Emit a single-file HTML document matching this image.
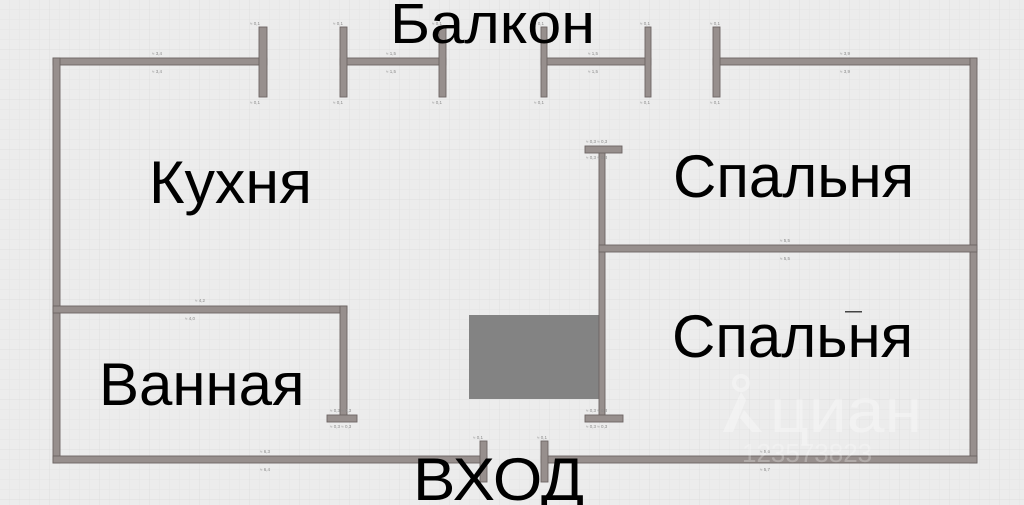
<!DOCTYPE html>
<html><head><meta charset="utf-8"><style>
html,body{margin:0;padding:0;background:#ececec;}
svg{display:block;}
</style></head><body>
<svg width="1024" height="505" viewBox="0 0 1024 505" xmlns="http://www.w3.org/2000/svg">
<defs>
<pattern id="g1" width="10" height="10" patternUnits="userSpaceOnUse">
<path d="M10 0V10M0 10H10" stroke="#000" stroke-opacity="0.03" stroke-width="1" fill="none"/>
</pattern>
<pattern id="g2" width="50" height="50" patternUnits="userSpaceOnUse">
<path d="M50 0V50M0 50H50" stroke="#000" stroke-opacity="0.03" stroke-width="1" fill="none"/>
</pattern>
</defs>
<rect width="1024" height="505" fill="#ececec"/>
<rect width="1024" height="505" fill="url(#g1)"/>
<rect width="1024" height="505" fill="url(#g2)"/>

<!-- gray block -->
<rect x="469" y="315" width="131" height="84" fill="#838383"/>

<g fill="#978f8d" stroke="#6c6462" stroke-width="0.9">
<!-- top walls -->
<rect x="53" y="58" width="214" height="7"/>
<rect x="340" y="58" width="106" height="7"/>
<rect x="541" y="58" width="110" height="7"/>
<rect x="713" y="58" width="264" height="7"/>
<!-- top T verticals -->
<rect x="259" y="27" width="8" height="70"/>
<rect x="340" y="27" width="7" height="70"/>
<rect x="439" y="27" width="7" height="70"/>
<rect x="541" y="27" width="6" height="70"/>
<rect x="645" y="27" width="6" height="70"/>
<rect x="713" y="27" width="7" height="70"/>
<!-- outer left / right -->
<rect x="53" y="58" width="7" height="405"/>
<rect x="970" y="58" width="7" height="405"/>
<!-- bottom -->
<rect x="53" y="456" width="434" height="7"/>
<rect x="541" y="456" width="436" height="7"/>
<rect x="480" y="441" width="7" height="41"/>
<rect x="541" y="441" width="7" height="41"/>
<!-- bathroom -->
<rect x="53" y="306" width="294" height="7"/>
<rect x="340" y="306" width="7" height="110"/>
<rect x="327" y="415" width="30" height="7"/>
<!-- interior vertical -->
<rect x="599" y="150" width="6" height="266"/>
<rect x="585" y="146" width="37" height="7"/>
<rect x="585" y="415" width="38" height="7"/>
<!-- bedroom divider -->
<rect x="599" y="245" width="378" height="7"/>
</g>

<!-- tiny dimension labels -->
<g font-family="Liberation Sans, sans-serif" font-size="4.5" fill="#8a8a8a">
<text x="152" y="55">≈ 3,4</text><text x="152" y="73">≈ 3,4</text>
<text x="250" y="25">≈ 0,1</text><text x="250" y="104">≈ 0,1</text>
<text x="333" y="25">≈ 0,1</text><text x="333" y="104">≈ 0,1</text>
<text x="386" y="55">≈ 1,5</text><text x="386" y="73">≈ 1,5</text>
<text x="432" y="25">≈ 0,1</text><text x="432" y="104">≈ 0,1</text>
<text x="534" y="25">≈ 0,1</text><text x="534" y="104">≈ 0,1</text>
<text x="588" y="55">≈ 1,5</text><text x="588" y="73">≈ 1,5</text>
<text x="640" y="25">≈ 0,1</text><text x="640" y="104">≈ 0,1</text>
<text x="710" y="25">≈ 0,1</text><text x="710" y="104">≈ 0,1</text>
<text x="840" y="55">≈ 3,9</text><text x="840" y="73">≈ 3,9</text>
<text x="195" y="302">≈ 4,2</text><text x="185" y="320">≈ 4,0</text>
<text x="780" y="242">≈ 5,5</text><text x="780" y="260">≈ 5,5</text>
<text x="260" y="453">≈ 6,3</text><text x="260" y="471">≈ 6,4</text>
<text x="760" y="453">≈ 5,6</text><text x="760" y="471">≈ 5,7</text>
<text x="330" y="412">≈ 0,3  ≈ 0,3</text><text x="330" y="428">≈ 0,3  ≈ 0,3</text>
<text x="586" y="412">≈ 0,3  ≈ 0,3</text><text x="586" y="428">≈ 0,3  ≈ 0,3</text>
<text x="586" y="143">≈ 0,3  ≈ 0,3</text><text x="586" y="159">≈ 0,3  ≈ 0,3</text>
<text x="473" y="439">≈ 0,1</text><text x="537" y="439">≈ 0,1</text>
</g>

<!-- watermark -->
<g fill="#ffffff" fill-opacity="0.35">
<circle cx="741" cy="383" r="7" fill="none" stroke="#fff" stroke-opacity="0.35" stroke-width="4"/>
<path d="M741 392 L746 400 L733 432 L723 432 Z"/>
<path d="M744 410 L762 432 L752 432 L740 418 Z"/>
<text x="770" y="432" font-family="Liberation Sans, sans-serif" font-size="62" textLength="152" lengthAdjust="spacingAndGlyphs">циан</text>
<text x="742" y="462" font-family="Liberation Sans, sans-serif" font-size="26" fill-opacity="0.25">123573823</text>
</g>

<!-- small mark -->
<rect x="845" y="311" width="17" height="1.5" fill="#444"/>

<!-- room labels -->
<g font-family="Liberation Sans, Arial, sans-serif" fill="#000">
<text x="390" y="43" font-size="57" textLength="205" lengthAdjust="spacingAndGlyphs">Балкон</text>
<text x="149" y="203" font-size="60" textLength="163" lengthAdjust="spacingAndGlyphs">Кухня</text>
<text x="673" y="197" font-size="60">Спальня</text>
<text x="672" y="357" font-size="60">Спальня</text>
<text x="99" y="405" font-size="60">Ванная</text>
<text x="413" y="500" font-size="60" textLength="171" lengthAdjust="spacingAndGlyphs">ВХОД</text>
</g>
</svg>
</body></html>
